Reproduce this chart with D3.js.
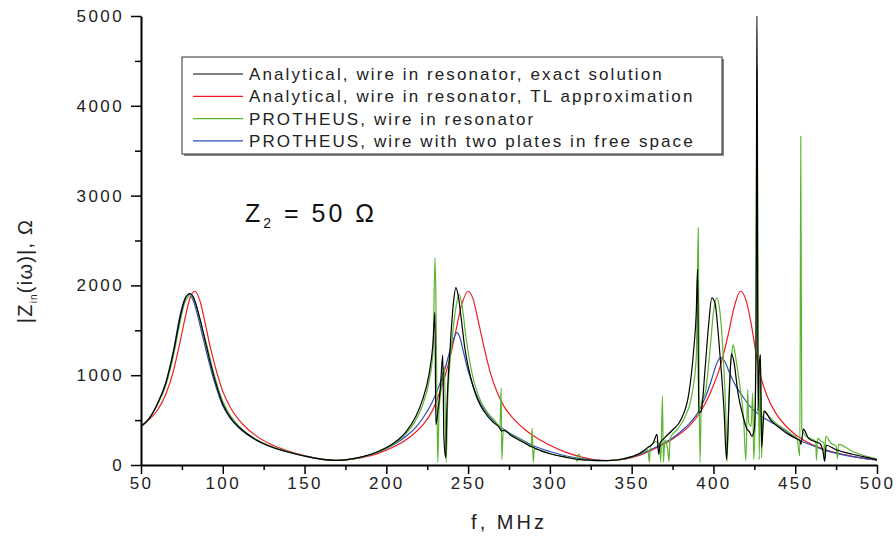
<!DOCTYPE html>
<html>
<head>
<meta charset="utf-8">
<script src="https://cdn.jsdelivr.net/npm/d3@7"></script>
<style>
  body { margin: 0; background: #fff; }
  svg { font-family: "Liberation Sans", Arial, sans-serif; }
  .tick text { font-size: 17px; letter-spacing: 2.4px; fill: #222; }
  .axis path, .axis line { stroke: #000; }
</style>
</head>
<body>
<script>
const WIDTH = 896;
const HEIGHT = 539;
const LEFT = 141, RIGHT = 877, TOP = 16, BOTTOM = 465;

var xMajor = [50, 100, 150, 200, 250, 300, 350, 400, 450, 500];
var xMinor = [75, 125, 175, 225, 275, 325, 375, 425, 475];
var yMajor = [0, 1000, 2000, 3000, 4000, 5000];
var yMinor = [500, 1500, 2500, 3500, 4500];

var seriesNames = [
    'Analytical, wire in resonator, exact solution',
    'Analytical, wire in resonator, TL approximation',
    'PROTHEUS, wire in resonator',
    'PROTHEUS, wire with two plates in free space'
];
var seriesColors = ['#000000', '#ee1c24', '#5bb531', '#2f4fb5'];

// [f MHz, |Z| ohm]
var blackData = [[50,430],[55,520],[60,680],[65,900],[70,1270],[74,1650],[77,1850],[80,1910],[82,1870],[85,1700],[88,1480],[90,1320],[95,960],[100,680],[105,520],[110,420],[120,285],[130,200],[140,145],[150,100],[160,65],[168,52],[175,58],[185,90],[195,150],[205,250],[212,370],[218,540],[222,720],[226,1000],[228.5,1350],[229.7,1700],[230.3,450],[231.5,600],[233,850],[234.5,1225],[235.2,300],[236.3,80],[237,600],[239,1300],[241,1800],[242.5,1975],[244,1880],[246,1600],[248,1300],[250,1100],[253,880],[256,720],[260,590],[265,480],[269,420],[270.5,380],[272,390],[276,330],[280,290],[285,240],[290,195],[295,155],[300,125],[310,85],[318,60],[325,52],[335,48],[345,70],[355,130],[361,210],[363,240],[365.5,340],[366.5,120],[367.5,250],[370,300],[375,390],[380,500],[385,800],[388,1300],[389.5,1700],[390.3,2180],[391,580],[392.5,600],[395,1100],[397,1550],[399,1860],[401,1800],[403,1450],[405,1000],[406.5,600],[408,60],[409.5,700],[411,1240],[412.5,1150],[415,800],[418,550],[420.5,400],[422,370],[423.5,320],[425,400],[426,1200],[426.6,5200],[427.2,600],[428,1100],[428.7,1230],[429.5,200],[431,600],[435,500],[440,420],[445,350],[450,300],[453,270],[453.5,230],[455,400],[458,300],[462,260],[465,240],[467,150],[468,40],[469,220],[475,170],[485,120],[495,80],[500,60]];

var redData = [[50,435],[55,505],[60,610],[65,780],[70,1060],[74,1380],[77,1640],[80,1860],[83,1935],[86,1830],[89,1600],[92,1340],[95,1120],[100,820],[105,630],[110,500],[120,330],[130,225],[140,155],[150,105],[160,68],[168,52],[175,57],[185,82],[195,130],[205,205],[215,320],[222,440],[228,600],[233,830],[238,1130],[242,1450],[246,1780],[250,1935],[253,1850],[256,1620],[260,1290],[264,1000],[268,800],[272,650],[278,510],[285,390],[292,300],[300,220],[310,140],[320,85],[328,58],[336,50],[345,62],[355,110],[365,190],[375,290],[385,430],[392,590],[398,800],[404,1090],[409,1450],[413,1780],[416.5,1935],[420,1830],[423,1580],[426,1250],[429,980],[433,760],[438,580],[444,440],[450,340],[460,230],[470,160],[480,115],[490,80],[500,55]];

var greenData = [[50,435],[55,520],[60,670],[65,880],[70,1230],[74,1600],[77,1820],[80.5,1890],[83,1820],[86,1620],[90,1350],[95,990],[100,710],[105,540],[110,430],[120,290],[130,205],[140,148],[150,100],[160,65],[168,52],[175,58],[185,88],[195,145],[205,240],[212,350],[218,500],[222,660],[226,920],[228.5,1250],[229.8,2310],[230.4,1700],[231,600],[231.5,30],[232.2,600],[234,900],[235.5,1100],[236.6,30],[237.5,700],[240,1350],[242.5,1750],[244.5,1900],[246.5,1750],[248.5,1450],[251,1150],[254,900],[258,700],[262,580],[266,500],[269.5,430],[270.2,860],[270.6,60],[271.5,380],[276,340],[280,300],[285,250],[288.5,200],[289.2,410],[289.8,30],[290.5,180],[295,160],[300,128],[310,88],[316,65],[316.7,40],[317.5,120],[320,60],[325,52],[335,48],[345,68],[355,125],[360,170],[360.8,30],[361.5,200],[365,260],[367,230],[367.8,30],[368.8,770],[369.4,30],[370.3,280],[372,180],[372.8,40],[373.5,300],[378,400],[383,550],[387,800],[389.5,1200],[390.7,2640],[391.3,800],[391.8,30],[392.6,700],[395,800],[398,1300],[400,1700],[402,1860],[404,1700],[406,1200],[407.5,600],[408.3,40],[409.5,800],[411,1200],[412,1340],[414,1150],[416,900],[418.5,500],[419.8,50],[421,840],[421.5,480],[423,430],[424,800],[424.6,60],[425.5,500],[426.8,4420],[427.3,1800],[428,60],[428.7,1230],[429.4,80],[430.5,600],[435,520],[440,440],[445,380],[448,340],[451,300],[452.8,100],[453.4,3660],[454,400],[456,330],[460,290],[462.5,260],[463,50],[463.6,300],[466,260],[467.5,250],[468,50],[468.6,320],[472,240],[475,210],[475.8,70],[476.5,230],[485,150],[495,90],[500,65]];

var blueData = [[50,425],[55,515],[60,680],[65,910],[70,1290],[74,1680],[77,1860],[79.5,1900],[82,1830],[85,1640],[88,1410],[90,1260],[95,920],[100,660],[105,510],[110,410],[120,280],[130,198],[140,142],[150,98],[160,64],[168,51],[175,57],[185,88],[195,145],[205,230],[212,320],[218,420],[223,540],[228,700],[232,870],[236,1080],[239,1280],[241.5,1420],[243,1475],[245,1420],[247,1270],[250,1050],[254,830],[258,670],[263,540],[268,450],[275,360],[282,290],[290,215],[300,150],[310,100],[320,68],[330,52],[336,50],[345,65],[355,120],[365,200],[375,300],[383,420],[390,570],[395,750],[399,960],[402,1130],[404.5,1195],[407,1150],[410,1020],[414,870],[418,760],[422,660],[428,560],[435,480],[442,410],[450,300],[460,220],[470,155],[480,110],[490,80],[500,55]];

var drawChart = function () {
    var svg = d3.select('body').append('svg')
        .attr('width', WIDTH)
        .attr('height', HEIGHT);

    var xScale = d3.scaleLinear().domain([50, 500]).range([LEFT, RIGHT]);
    var yScale = d3.scaleLinear().domain([0, 5000]).range([BOTTOM, TOP]);

    svg.append('clipPath').attr('id', 'plot')
        .append('rect')
        .attr('x', LEFT).attr('y', TOP)
        .attr('width', RIGHT - LEFT).attr('height', BOTTOM - TOP);

    var line = d3.line()
        .x(function (d) { return xScale(d[0]); })
        .y(function (d) { return yScale(d[1]); })
        .curve(d3.curveMonotoneX);

    var lines = svg.append('g').attr('clip-path', 'url(#plot)');
    var drawOrder = [[redData, 1], [blueData, 3], [greenData, 2], [blackData, 0]];
    drawOrder.forEach(function (s) {
        lines.append('path')
            .attr('d', line(s[0]))
            .attr('fill', 'none')
            .attr('stroke', seriesColors[s[1]])
            .attr('stroke-width', 1.2);
    });

    // axes
    svg.append('g').attr('class', 'axis')
        .attr('transform', 'translate(0,' + BOTTOM + ')')
        .call(d3.axisBottom(xScale).tickValues(xMajor).tickFormat(d3.format('d'))
            .tickSize(9).tickSizeOuter(0).tickPadding(3));
    svg.append('g').attr('class', 'axis')
        .attr('transform', 'translate(0,' + BOTTOM + ')')
        .call(d3.axisBottom(xScale).tickValues(xMinor).tickSize(5).tickFormat(''))
        .select('.domain').remove();

    svg.append('g').attr('class', 'axis')
        .attr('transform', 'translate(' + LEFT + ',0)')
        .call(d3.axisLeft(yScale).tickValues(yMajor).tickFormat(d3.format('d'))
            .tickSize(10).tickSizeOuter(0).tickPadding(7));
    svg.append('g').attr('class', 'axis')
        .attr('transform', 'translate(' + LEFT + ',0)')
        .call(d3.axisLeft(yScale).tickValues(yMinor).tickSize(6).tickFormat(''))
        .select('.domain').remove();

    svg.selectAll('.axis .domain').attr('stroke-width', 2);
    svg.selectAll('.axis line').attr('stroke-width', 1.5);

    // axis titles
    svg.append('text')
        .attr('x', (LEFT + RIGHT) / 2)
        .attr('y', 529)
        .attr('text-anchor', 'middle')
        .style('font-size', '20px')
        .style('letter-spacing', '3px')
        .attr('fill', '#222')
        .text('f, MHz');

    var yTitle = svg.append('text')
        .attr('transform', 'translate(32,271) rotate(-90)')
        .attr('text-anchor', 'middle')
        .style('font-size', '20px')
        .style('letter-spacing', '1.2px')
        .attr('fill', '#222');
    yTitle.append('tspan').text('|Z');
    yTitle.append('tspan').attr('dy', 5).style('font-size', '10px').text('in');
    yTitle.append('tspan').attr('dy', -5).text('(iω)|, Ω');

    // Z2 annotation
    var z2 = svg.append('text')
        .attr('x', 245)
        .attr('y', 222)
        .style('font-size', '25px')
        .style('letter-spacing', '3px')
        .attr('fill', '#111');
    z2.append('tspan').text('Z');
    z2.append('tspan').attr('dy', 6).style('font-size', '14px').text('2');
    z2.append('tspan').attr('dy', -6).text(' = 50 Ω');

    // legend
    var legend = svg.append('g');
    legend.append('rect')
        .attr('x', 184).attr('y', 59)
        .attr('width', 540).attr('height', 97)
        .attr('fill', '#888');
    legend.append('rect')
        .attr('x', 182).attr('y', 57)
        .attr('width', 540).attr('height', 97)
        .attr('fill', '#fff')
        .attr('stroke', '#333')
        .attr('stroke-width', 1);

    var rows = legend.selectAll('g.row')
        .data(seriesNames)
        .enter()
        .append('g')
        .attr('transform', function (d, i) { return 'translate(0,' + (74 + i * 22.3) + ')'; });
    rows.append('line')
        .attr('x1', 193).attr('x2', 243)
        .attr('stroke', function (d, i) { return seriesColors[i]; })
        .attr('stroke-width', 1.2);
    rows.append('text')
        .attr('x', 249)
        .attr('dy', '0.35em')
        .style('font-size', '17px')
        .style('letter-spacing', '2.1px')
        .attr('fill', '#222')
        .text(function (d) { return d; });
};

window.onload = function () {
    drawChart();
};
</script>
</body>
</html>
